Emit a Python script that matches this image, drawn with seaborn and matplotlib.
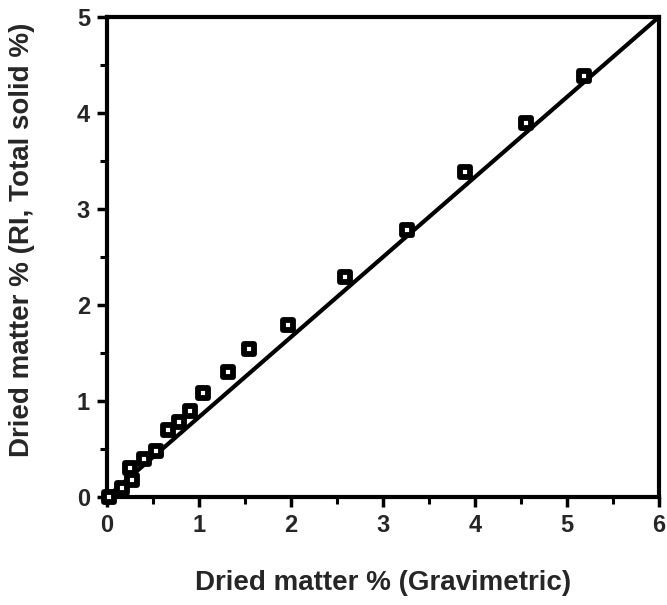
import numpy as np
import pandas as pd
import seaborn as sns
import matplotlib.pyplot as plt
from matplotlib.ticker import MultipleLocator

gravimetric = [0.03, 0.17, 0.27, 0.25, 0.40, 0.54, 0.67, 0.78, 0.91, 1.05,
               1.32, 1.55, 1.97, 2.59, 3.26, 3.89, 4.56, 5.18]
ri_total_solid = [0.00, 0.10, 0.18, 0.30, 0.40, 0.48, 0.70, 0.78, 0.90, 1.09,
                  1.30, 1.54, 1.79, 2.29, 2.78, 3.39, 3.90, 4.39]

# fitted line end points
line_x = [0, 6]
line_y = [0, 5]

data = pd.DataFrame({"grav": gravimetric, "ri": ri_total_solid})
fit = pd.DataFrame({"grav": line_x, "ri": line_y})

sns.set_style("white")
plt.rcParams['font.family'] = ['Liberation Sans', 'DejaVu Sans']
plt.rcParams['font.weight'] = 'bold'

fig, ax = plt.subplots(figsize=(6.67, 6.05), dpi=100)
fig.subplots_adjust(left=0.160, right=0.988, top=0.972, bottom=0.178)

sns.lineplot(data=fit, x="grav", y="ri", color="black", linewidth=3, ax=ax)
sns.scatterplot(data=data, x="grav", y="ri", marker="s", s=50,
                facecolor="white", edgecolor="black", linewidth=4.2,
                ax=ax, zorder=3, clip_on=False)

ax.set_xlim(0, 6)
ax.set_ylim(0, 5)
ax.xaxis.set_major_locator(MultipleLocator(1))
ax.xaxis.set_minor_locator(MultipleLocator(0.5))
ax.yaxis.set_major_locator(MultipleLocator(1))
ax.yaxis.set_minor_locator(MultipleLocator(0.5))
ax.tick_params(which='major', direction='out', length=7, width=2.5,
               labelsize=17, bottom=True, left=True, pad=5, color='black')
ax.tick_params(which='minor', direction='out', length=5, width=2.2,
               bottom=True, left=True, color='black')

for sp in ax.spines.values():
    sp.set_visible(True)
    sp.set_color('black')
    sp.set_linewidth(3)

ax.set_xlabel('Dried matter % (Gravimetric)', fontsize=20, fontweight='bold', labelpad=24)
ax.set_ylabel('Dried matter % (RI, Total solid %)', fontsize=20, fontweight='bold')
ax.yaxis.set_label_coords(-0.13, 0.537)

plt.savefig("out.png", dpi=100)
